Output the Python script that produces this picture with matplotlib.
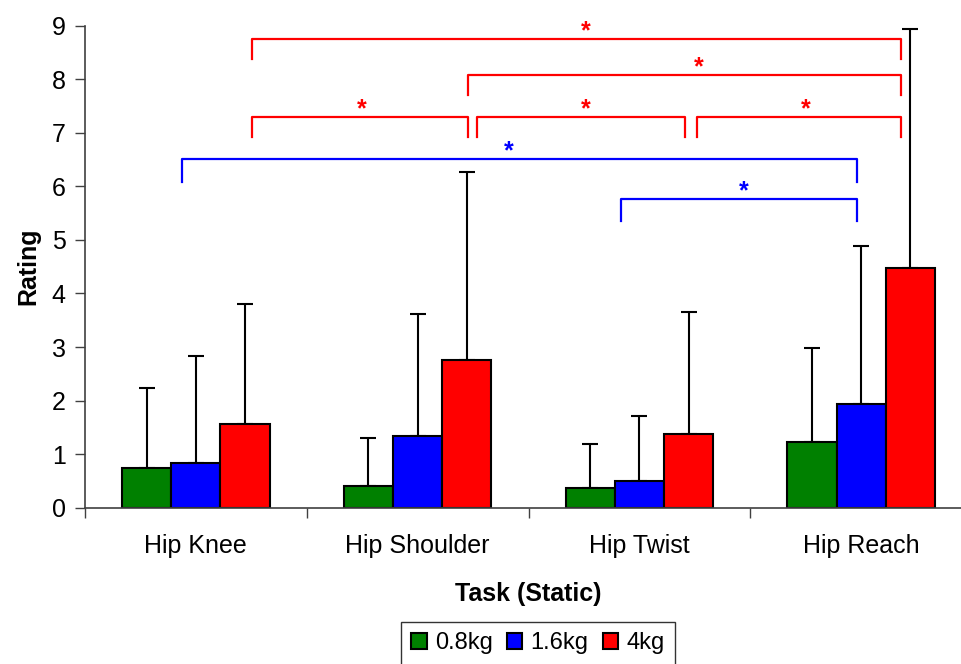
import numpy as np
import matplotlib
matplotlib.use('Agg')
import matplotlib.pyplot as plt

plt.rcParams['font.family'] = ['Liberation Sans', 'DejaVu Sans']

tasks = ['Hip Knee', 'Hip Shoulder', 'Hip Twist', 'Hip Reach']
loads = ['0.8kg', '1.6kg', '4kg']
colors = ['#008000', '#0000ff', '#ff0000']

# mean rating per load, one list per load (order = tasks)
mean_08 = [0.75, 0.40, 0.37, 1.23]
mean_16 = [0.83, 1.34, 0.49, 1.94]
mean_4 = [1.57, 2.76, 1.38, 4.48]
# upper error (SD) per load
sd_08 = [1.49, 0.90, 0.82, 1.76]
sd_16 = [2.01, 2.28, 1.23, 2.95]
sd_4 = [2.24, 3.51, 2.28, 4.45]

# significance brackets: (x left, x right, y top, leg drop, colour, star x)
brackets = [
    (0.251, 3.180, 8.75, 0.38, 'red', 1.76),
    (1.227, 3.180, 8.08, 0.37, 'red', 2.27),
    (0.251, 1.227, 7.30, 0.38, 'red', 0.75),
    (1.270, 2.207, 7.30, 0.38, 'red', 1.76),
    (2.260, 3.180, 7.30, 0.38, 'red', 2.75),
    (-0.063, 2.982, 6.51, 0.42, 'blue', 1.41),
    (1.919, 2.982, 5.76, 0.41, 'blue', 2.47),
]

means = [mean_08, mean_16, mean_4]
sds = [sd_08, sd_16, sd_4]

fig = plt.figure(figsize=(9.62, 6.64), dpi=100)
ax = fig.add_axes([85 / 962, (664 - 507.7) / 664, 887 / 962, 482 / 664])

x = np.arange(len(tasks))
w = 0.222
for i in range(3):
    pos = x + (i - 1) * w
    ax.bar(pos, means[i], width=w, color=colors[i], edgecolor='black',
           linewidth=1.5, label=loads[i], zorder=2)
    ax.errorbar(pos, means[i], yerr=[np.zeros(4), sds[i]], fmt='none',
                ecolor='black', elinewidth=1.5, capsize=5.5, capthick=1.5, zorder=1)

for x0, x1, y, d, c, sx in brackets:
    ax.plot([x0, x0, x1, x1], [y - d, y, y, y - d], color=c, lw=1.6, clip_on=False)
    ax.text(sx, y + 0.14, '*', color=c, ha='center', va='center',
            fontsize=18, fontweight='bold', clip_on=False)

ax.set_xlim(-0.5, 3.5)
ax.set_ylim(0, 9)
ax.set_yticks(range(10))
ax.set_xticks(np.arange(-0.5, 4.0, 1.0))
ax.set_xticklabels([])
ax.set_xticks(x, minor=True)
ax.set_xticklabels(tasks, minor=True)
ax.tick_params(axis='x', which='minor', length=0, pad=19, labelsize=18)
ax.tick_params(axis='x', which='major', length=7, width=1, color='#404040')
ax.tick_params(axis='y', length=7, width=1, color='#404040', labelsize=18, pad=7)

for s in ['top', 'right']:
    ax.spines[s].set_visible(False)
for s in ['left', 'bottom']:
    ax.spines[s].set_color('#404040')
    ax.spines[s].set_linewidth(1.2)

ax.set_ylabel('Rating', fontsize=18, fontweight='bold', labelpad=8)
ax.set_xlabel('Task (Static)', fontsize=18, fontweight='bold', labelpad=17)

leg = fig.legend(loc='upper center', bbox_to_anchor=(538 / 962, (664 - 621.7) / 664),
                 ncol=3, fontsize=17, frameon=True, fancybox=False,
                 edgecolor='black', handlelength=0.65, handleheight=0.65,
                 handletextpad=0.35, columnspacing=0.6, borderpad=0.45,
                 borderaxespad=0)
leg.get_frame().set_linewidth(1)

fig.savefig('out.png', dpi=100)
